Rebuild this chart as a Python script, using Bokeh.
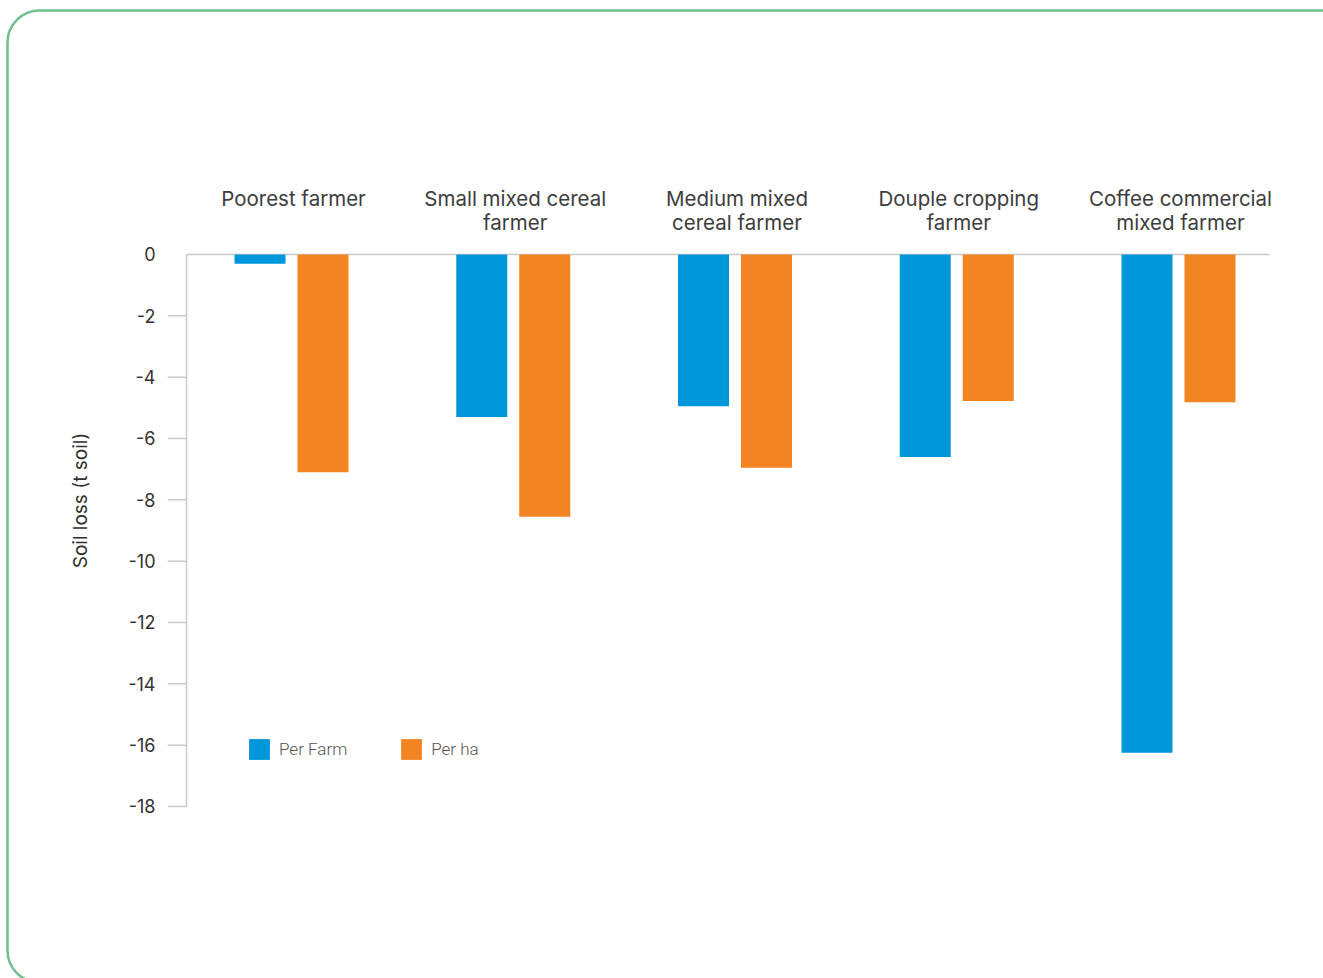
import base64
from bokeh.plotting import figure
from bokeh.models import (Range1d, FixedTicker, Legend, LegendItem, ColumnDataSource)
from bokeh.core.properties import value
from bokeh.embed import file_html
from bokeh.resources import INLINE

categories = ["Poorest farmer", "Small mixed cereal\nfarmer", "Medium mixed\ncereal farmer",
              "Douple cropping\nfarmer", "Coffee commercial\nmixed farmer"]
per_farm = [-0.3, -5.3, -4.95, -6.6, -16.25]
per_ha = [-7.1, -8.55, -6.95, -4.78, -4.82]
y_ticks = [0, -2, -4, -6, -8, -10, -12, -14, -16, -18]

BLUE = "#0096da"
ORANGE = "#f38422"
GRID = "#c9c9c9"
TEXT = "#3d3d3d"
FRAME_GREEN = "#70bf90"

W, H = 1323, 978
xs = list(range(len(categories)))

p = figure(width=W, height=H, output_backend="svg", toolbar_location=None,
           x_axis_type=None,
           x_range=Range1d(-0.5592, 4.4555), y_range=Range1d(-18.783, 2.739),
           min_border_left=167, min_border_right=44, min_border_top=170,
           min_border_bottom=148)
p.outline_line_color = None
p.xgrid.visible = False
p.ygrid.visible = False
p.background_fill_color = None
p.border_fill_color = None

# rounded green card border as the background of the plot element
svg_bg = ("<svg xmlns='http://www.w3.org/2000/svg' width='%d' height='%d'>"
          "<rect x='0' y='0' width='%d' height='%d' fill='white'/>"
          "<rect x='7.5' y='10.5' width='1400' height='972' rx='32' ry='32' fill='white' "
          "stroke='%s' stroke-width='2.5'/></svg>") % (W, H, W, H, FRAME_GREEN)
b64 = base64.b64encode(svg_bg.encode()).decode()
p.styles = {"background-image": "url(data:image/svg+xml;base64,%s)" % b64,
            "background-repeat": "no-repeat"}

# y axis
ax = p.yaxis[0]
ax.ticker = FixedTicker(ticks=y_ticks)
ax.major_label_overrides = {t: str(t) for t in y_ticks}
ax.major_tick_out = 0
ax.major_tick_in = 0
ax.minor_tick_out = 0
ax.minor_tick_in = 0
ax.axis_line_color = None
ax.major_label_standoff = 12
ax.major_label_text_font = "Inter"
ax.major_label_text_font_size = "18px"
ax.major_label_text_color = "#333333"
ax.axis_label = "Soil loss (t soil)"
ax.axis_label_text_font = "Inter"
ax.axis_label_text_font_size = "19px"
ax.axis_label_text_font_style = "normal"
ax.axis_label_text_color = "#2e2e2e"
ax.axis_label_standoff = 33

# manual axis line and tick marks
x_axis = -0.4735
x_axis_end = 4.4104
x_left = p.x_range.start
p.segment(x0=[x_axis], y0=[min(y_ticks)], x1=[x_axis], y1=[max(y_ticks)],
          line_color=GRID, line_width=1.5)
tick_vals = [t for t in y_ticks if t != 0]
p.segment(x0=[x_left] * len(tick_vals), y0=tick_vals, x1=[x_axis] * len(tick_vals),
          y1=tick_vals, line_color=GRID, line_width=1.5)
p.segment(x0=[x_axis], y0=[0], x1=[x_axis_end], y1=[0], line_color=GRID, line_width=1.5)

# bars
off = 0.142
bw = 0.23
r1 = p.vbar(x=[x - off for x in xs], top=0, bottom=per_farm, width=bw,
            fill_color=BLUE, line_color=None)
r2 = p.vbar(x=[x + off for x in xs], top=0, bottom=per_ha, width=bw,
            fill_color=ORANGE, line_color=None)

# category labels
line1 = [c.split("\n")[0] for c in categories]
line2 = [c.split("\n")[1] if "\n" in c else "" for c in categories]
src = ColumnDataSource(dict(x=xs, y=[0] * len(xs), l1=line1, l2=line2))
p.text(x="x", y="y", text="l1", source=src, x_offset=2, y_offset=-56, text_align="center",
       text_baseline="alphabetic", text_font=value("Inter"), text_font_size="20.5px",
       text_color=TEXT)
p.text(x="x", y="y", text="l2", source=src, x_offset=2, y_offset=-32, text_align="center",
       text_baseline="alphabetic", text_font=value("Inter"), text_font_size="20.5px",
       text_color=TEXT)

legend = Legend(items=[LegendItem(label="Per Farm", renderers=[r1]),
                       LegendItem(label="Per ha", renderers=[r2])],
                orientation="horizontal", location=(79, 68), padding=0, margin=0,
                spacing=51, glyph_width=26, glyph_height=26, label_standoff=7,
                border_line_color=None, background_fill_alpha=0,
                label_text_font="Roboto Light, Roboto", label_text_font_size="17px",
                label_text_color="#555555")
p.add_layout(legend)

open("out.html", "w").write(file_html(p, INLINE))
